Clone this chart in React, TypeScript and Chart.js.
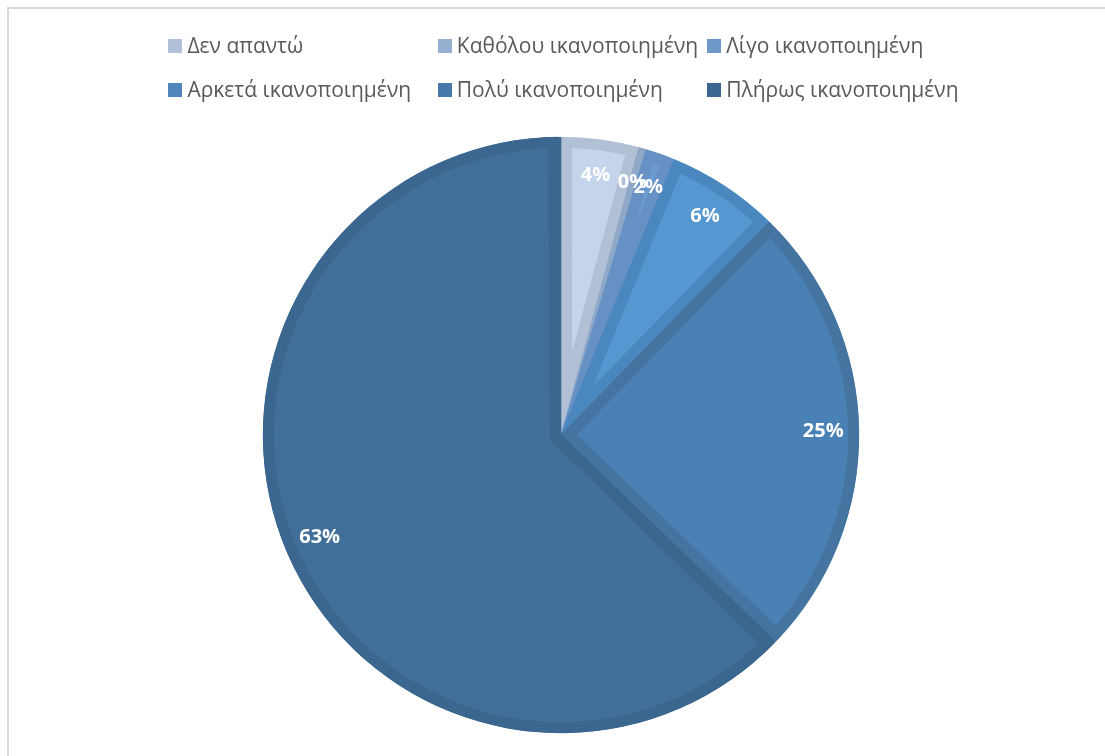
import React, { useEffect, useRef } from "react";
import { Chart, registerables } from "chart.js";

Chart.register(...registerables);

const categories = [
  "Δεν απαντώ",
  "Καθόλου ικανοποιημένη",
  "Λίγο ικανοποιημένη",
  "Αρκετά ικανοποιημένη",
  "Πολύ ικανοποιημένη",
  "Πλήρως ικανοποιημένη",
];
const percentages = [4.2, 0.4, 1.6, 6.1, 24.9, 62.8];
const fillColors = ["#c4d4ea", "#9fb7d8", "#6c9bd2", "#5597d1", "#4a81b5", "#416f99"];
const borderColors = ["#b2c0d5", "#8fa8c8", "#6790c4", "#4b87bf", "#44749f", "#3a6690"];
const legendColors = ["#afc0d7", "#95afd1", "#6d96c9", "#4f86bd", "#4679aa", "#3c6591"];

const LEGEND_FONT = 21;
const LABEL_FONT = 20;
const FONT_FAMILY = '"Open Sans", sans-serif';

// legend layout (canvas px)
const LEGEND_COLS = 3;
const LEGEND_CENTER_X = 559;
const LEGEND_FIRST_ROW_Y = 37;
const LEGEND_ROW_PITCH = 44;
const BOX = 14;
const BOX_GAP = 5;
const COL_GAP = 9;

const sliceLabels = {
  id: "sliceLabels",
  afterDatasetsDraw(chart: any) {
    const meta = chart.getDatasetMeta(0);
    const ctx = chart.ctx;
    ctx.save();
    ctx.font = `bold ${LABEL_FONT}px ${FONT_FAMILY}`;
    ctx.fillStyle = "#ffffff";
    ctx.textAlign = "center";
    ctx.textBaseline = "middle";
    meta.data.forEach((arc: any, i: number) => {
      const p = arc.getProps(["x", "y", "startAngle", "endAngle", "outerRadius"], true);
      const mid = (p.startAngle + p.endAngle) / 2;
      const r = p.outerRadius * 0.88;
      ctx.fillText(Math.round(percentages[i]) + "%", p.x + Math.cos(mid) * r, p.y + Math.sin(mid) * r);
    });
    ctx.restore();
  },
};

const gridLegend = {
  id: "gridLegend",
  afterDraw(chart: any) {
    const ctx = chart.ctx;
    const labels: string[] = chart.data.labels;
    ctx.save();
    ctx.font = `${LEGEND_FONT}px ${FONT_FAMILY}`;
    const maxText = Math.max(...labels.map((l) => ctx.measureText(l).width));
    const pitch = BOX + BOX_GAP + maxText + COL_GAP;
    const total = LEGEND_COLS * pitch - COL_GAP;
    const left = LEGEND_CENTER_X - total / 2;
    ctx.textAlign = "left";
    ctx.textBaseline = "middle";
    labels.forEach((label, i) => {
      const col = i % LEGEND_COLS;
      const row = Math.floor(i / LEGEND_COLS);
      const x = left + col * pitch;
      const y = LEGEND_FIRST_ROW_Y + row * LEGEND_ROW_PITCH;
      ctx.fillStyle = legendColors[i];
      ctx.fillRect(Math.round(x), Math.round(y - BOX / 2), BOX, BOX);
      ctx.fillStyle = "#595959";
      ctx.fillText(label, x + BOX + BOX_GAP, y + 1);
    });
    ctx.restore();
  },
};

export default function App() {
  const canvasRef = useRef<HTMLCanvasElement | null>(null);

  useEffect(() => {
    if (!canvasRef.current) return;
    const chart = new Chart(canvasRef.current, {
      type: "pie",
      data: {
        labels: categories,
        datasets: [
          {
            data: percentages,
            backgroundColor: fillColors,
            borderColor: borderColors,
            borderWidth: 11,
            borderAlign: "inner",
            borderJoinStyle: "miter",
            spacing: 1,
          } as any,
        ],
      },
      options: {
        responsive: false,
        animation: false,
        devicePixelRatio: 1,
        radius: 298,
        layout: { padding: { top: 101, left: 8, right: 0, bottom: 9 } },
        plugins: {
          tooltip: { enabled: false },
          legend: { display: false },
        },
      } as any,
      plugins: [sliceLabels, gridLegend],
    });
    return () => chart.destroy();
  }, []);

  return (
    <div
      style={{
        position: "fixed",
        left: 7,
        top: 7,
        width: 1098,
        height: 749,
        borderTop: "2px solid #d9d9d9",
        borderLeft: "2px solid #d9d9d9",
        overflow: "hidden",
        background: "#ffffff",
      }}
    >
      <canvas ref={canvasRef} width={1096} height={760} style={{ display: "block" }} />
    </div>
  );
}
